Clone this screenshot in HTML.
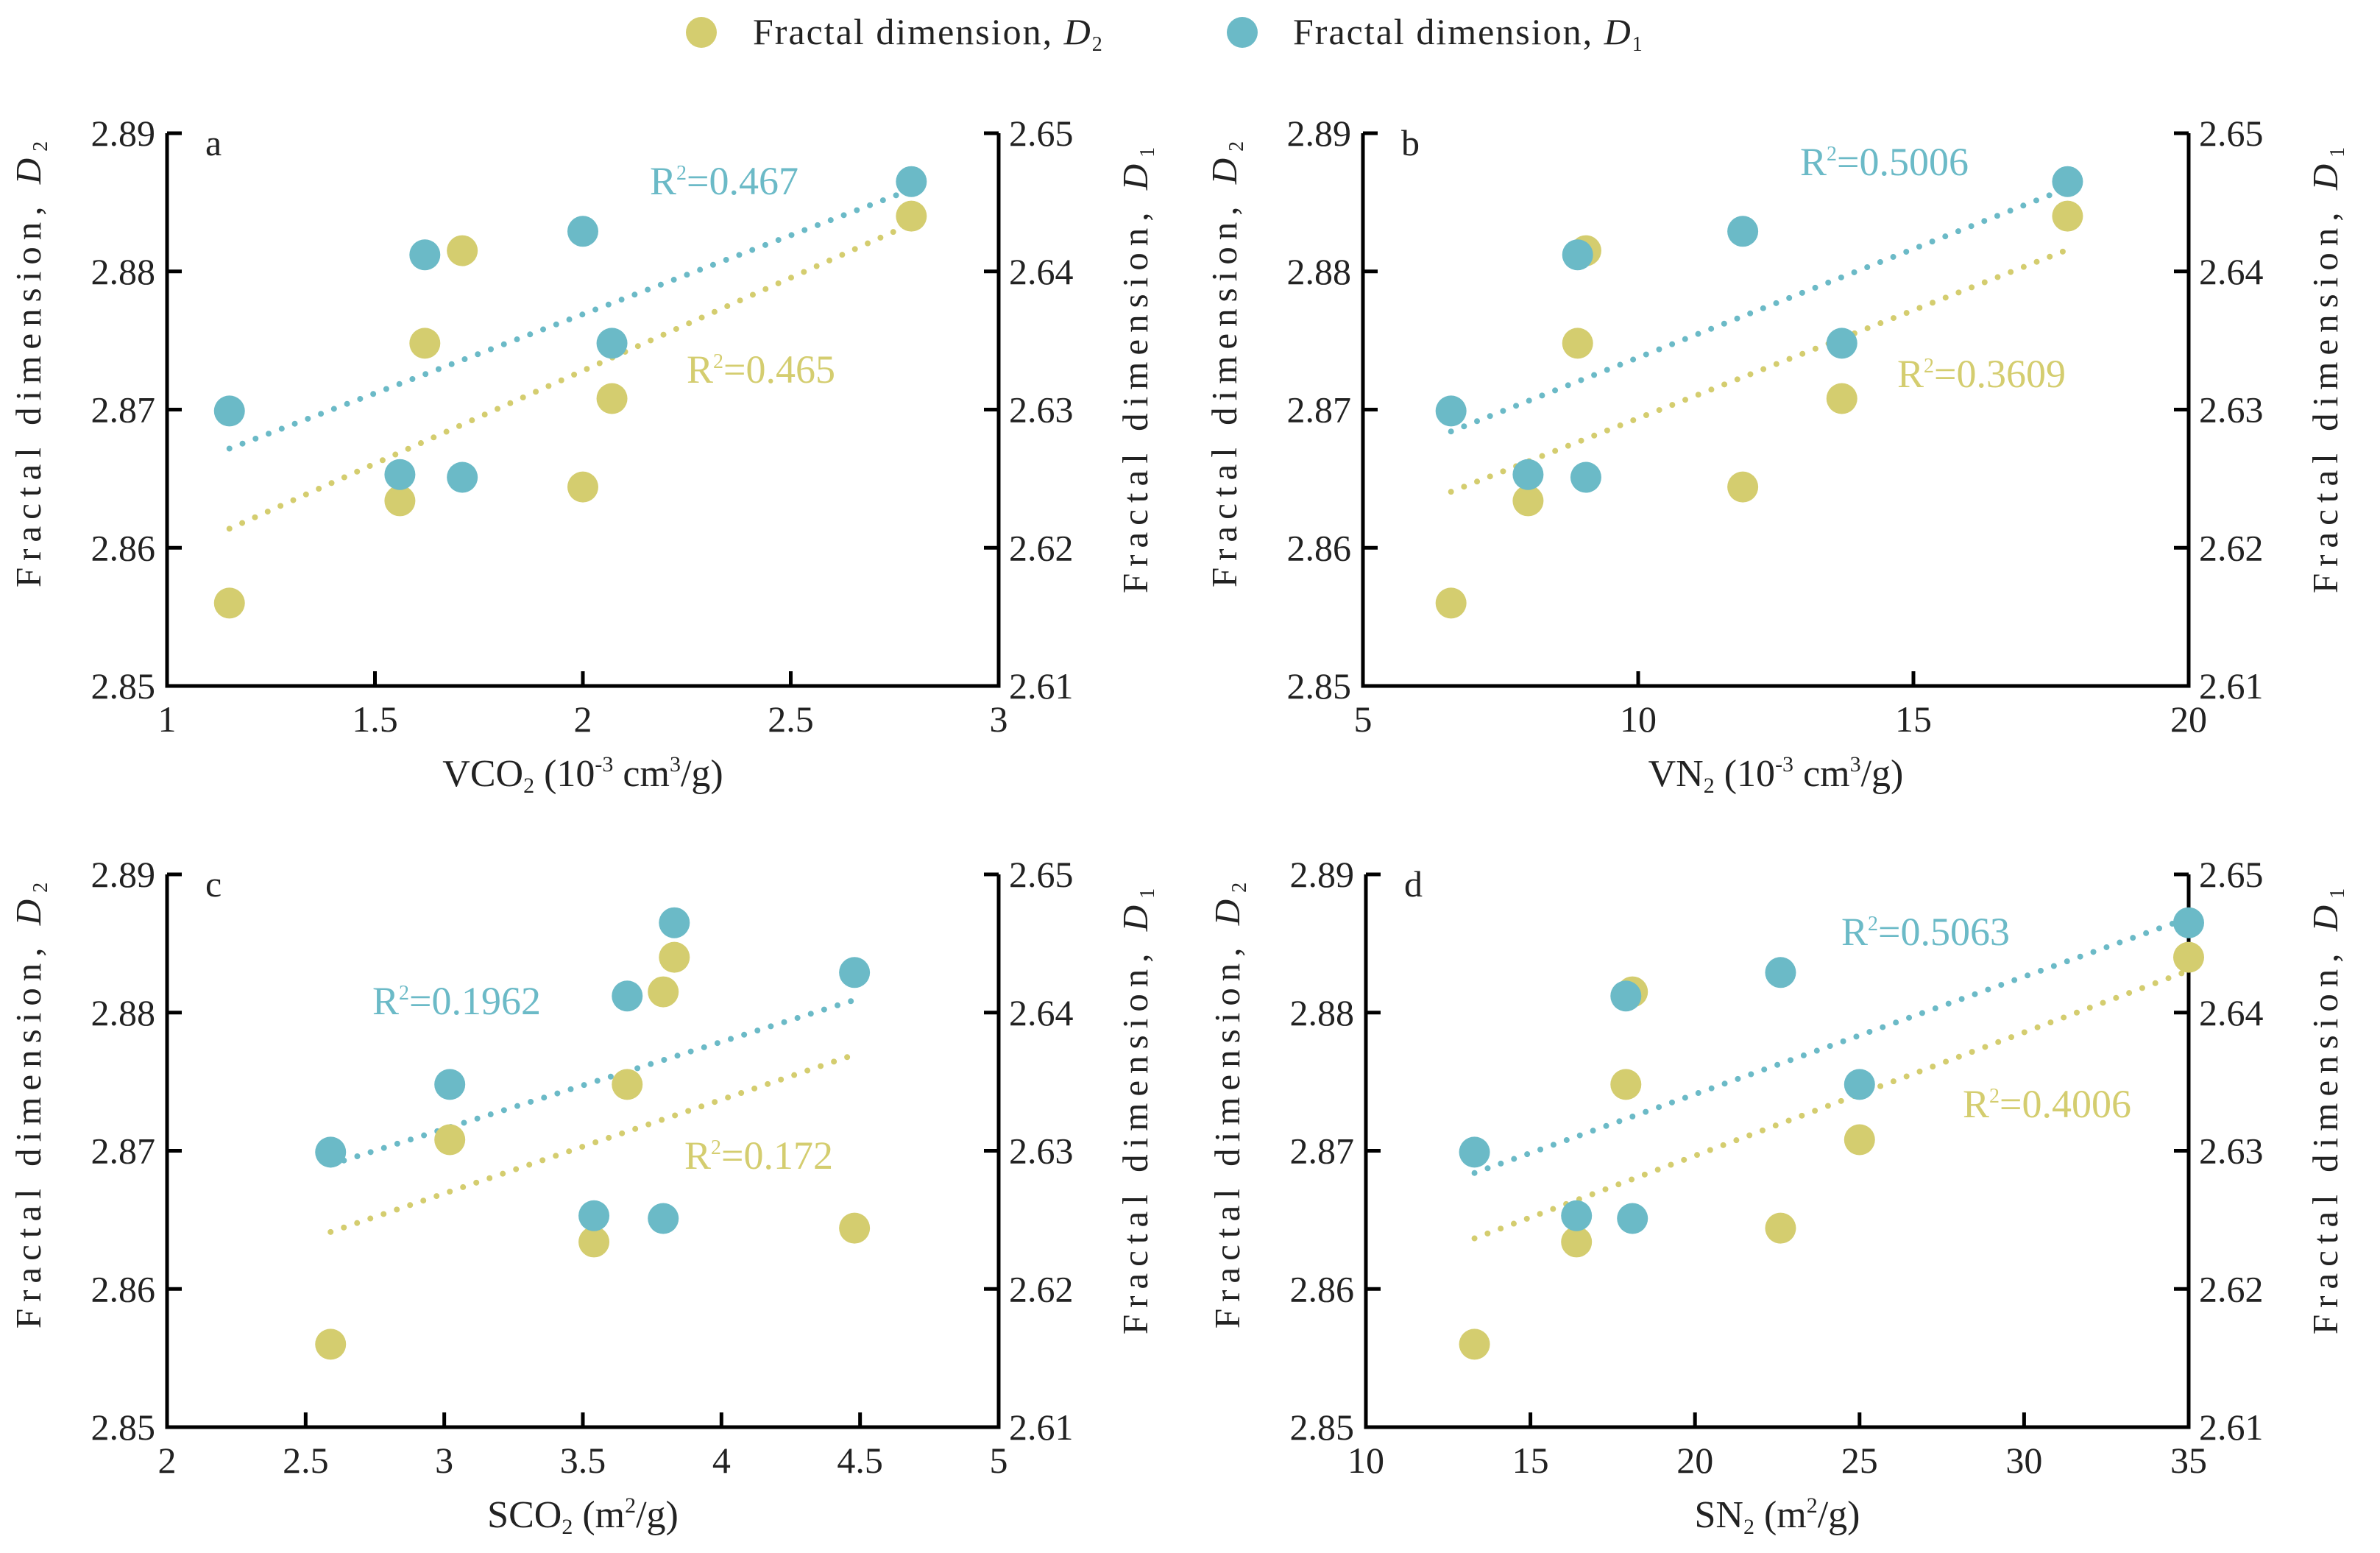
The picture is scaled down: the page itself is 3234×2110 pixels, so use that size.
<!DOCTYPE html>
<html><head><meta charset="utf-8">
<style>
html,body{margin:0;padding:0;background:#fff;}
svg{display:block;font-family:"Liberation Serif",serif;}
</style></head>
<body>
<svg id="chart" width="3234" height="2110" viewBox="0 0 3234 2110" xmlns="http://www.w3.org/2000/svg">
  <g>
    <circle cx="953" cy="44" r="21" fill="#d4cd6f"/>
    <text x="1023" y="60" font-size="50" letter-spacing="2" fill="#222">Fractal dimension, <tspan font-style="italic">D</tspan><tspan font-size="28" dy="9">2</tspan></text>
    <circle cx="1688" cy="44" r="21" fill="#6bbac7"/>
    <text x="1757" y="60" font-size="50" letter-spacing="2" fill="#222">Fractal dimension, <tspan font-style="italic">D</tspan><tspan font-size="28" dy="9">1</tspan></text>
  </g>
</svg>
<script>
// shared sample values (7 samples)
const d2Values = [2.856, 2.8634, 2.8748, 2.8815, 2.8644, 2.8708, 2.884];
const d1Values = [2.6299, 2.6253, 2.6412, 2.6251, 2.6429, 2.6348, 2.6465];
// x values per panel
const xVCO2 = [1.15, 1.56, 1.62, 1.71, 2.0, 2.07, 2.79];
const xVN2  = [6.6, 8.0, 8.9, 9.05, 11.9, 13.7, 17.8];
const xSCO2 = [2.59, 3.54, 3.66, 3.79, 4.48, 3.02, 3.83];
const xSN2  = [13.3, 16.4, 17.9, 18.1, 22.6, 25.0, 35.0];
// tick labels
const xTicksA = [1, 1.5, 2, 2.5, 3];
const xTicksB = [5, 10, 15, 20];
const xTicksC = [2, 2.5, 3, 3.5, 4, 4.5, 5];
const xTicksD = [10, 15, 20, 25, 30, 35];
const leftTicks = [2.85, 2.86, 2.87, 2.88, 2.89];
const rightTicks = [2.61, 2.62, 2.63, 2.64, 2.65];
// R² labels
const r2Blue = ["0.467", "0.5006", "0.1962", "0.5063"];
const r2Yellow = ["0.465", "0.3609", "0.172", "0.4006"];

const NS = "http://www.w3.org/2000/svg";
const svg = document.getElementById("chart");
const BLUE = "#6bbac7", YEL = "#d4cd6f";
function mk(tag, attrs, parent) {
  const e = document.createElementNS(NS, tag);
  for (const k in attrs) e.setAttribute(k, attrs[k]);
  (parent || svg).appendChild(e);
  return e;
}
function fit(xs, ys) {
  const n = xs.length; let sx=0, sy=0, sxx=0, sxy=0;
  for (let i=0;i<n;i++){sx+=xs[i];sy+=ys[i];sxx+=xs[i]*xs[i];sxy+=xs[i]*ys[i];}
  const b=(n*sxy-sx*sy)/(n*sxx-sx*sx); return {b, a:(sy-b*sx)/n};
}
function panel(cfg) {
  const g = mk("g", {});
  
  
  const {L, R, T, B, xmin, xmax, xs, xticks} = cfg;
  const sx = v => L + (v - xmin) / (xmax - xmin) * (R - L);
  const sy = v => B - (v - 2.85) / 0.04 * (B - T);
  const sy1 = v => B - (v - 2.61) / 0.04 * (B - T);
  const ax = mk("path", {d:`M${L},${T} L${L},${B} L${R},${B} L${R},${T}`, fill:"none", stroke:"#000", "stroke-width":5}, g);
  
  
  leftTicks.forEach((t, i) => {
    const y = sy(t);
    mk("line", {x1:L, x2:L+20, y1:y, y2:y, stroke:"#000", "stroke-width":5}, g);
    const tl = mk("text", {x:L-16, y:y+17, "font-size":50, "text-anchor":"end", fill:"#222"}, g);
    
    
    tl.textContent = t.toFixed(2);
    const yr = sy1(rightTicks[i]);
    mk("line", {x1:R-20, x2:R, y1:yr, y2:yr, stroke:"#000", "stroke-width":5}, g);
    const tr = mk("text", {x:R+14, y:yr+17, "font-size":50, fill:"#222"}, g);
    
    
    tr.textContent = rightTicks[i].toFixed(2);
  });
  xticks.forEach(t => {
    const x = sx(t);
    mk("line", {x1:x, x2:x, y1:B, y2:B-20, stroke:"#000", "stroke-width":5}, g);
    const tx = mk("text", {x:x, y:B+62, "font-size":50, "text-anchor":"middle", fill:"#222"}, g);
    
    
    tx.textContent = String(t);
  });
  const pl = mk("text", {x:L+52, y:T+30, "font-size":50, fill:"#222"}, g);
  
  
  pl.textContent = cfg.letter;
  const xt = mk("text", {x:(L+R)/2, y:B+136, "font-size":52, "text-anchor":"middle", fill:"#222"}, g);
  
  
  xt.innerHTML = cfg.xtitle;
  const cy = (T+B)/2;
  const yl = mk("text", {x:0, y:0, "font-size":49, "letter-spacing":9, "text-anchor":"middle", fill:"#222", transform:`translate(${L-172},${cy-66}) rotate(-90)`}, g);
  
  
  yl.innerHTML = 'Fractal dimension, <tspan font-style="italic">D</tspan><tspan font-size="28" dy="9">2</tspan>';
  const yr = mk("text", {x:0, y:0, "font-size":49, "letter-spacing":9, "text-anchor":"middle", fill:"#222", transform:`translate(${R+202},${cy-58}) rotate(-90)`}, g);
  
  
  yr.innerHTML = 'Fractal dimension, <tspan font-style="italic">D</tspan><tspan font-size="28" dy="9">1</tspan>';
  const lo = Math.min(...xs), hi = Math.max(...xs);
  const fy = fit(xs, d2Values), fb = fit(xs, d1Values);
  const ly = mk("line", {x1:sx(lo), y1:sy(fy.a+fy.b*lo), x2:sx(hi), y2:sy(fy.a+fy.b*hi), stroke:YEL, "stroke-width":8, "stroke-linecap":"round", "stroke-dasharray":"0 19"}, g);
  
  
  const lb = mk("line", {x1:sx(lo), y1:sy1(fb.a+fb.b*lo), x2:sx(hi), y2:sy1(fb.a+fb.b*hi), stroke:BLUE, "stroke-width":8, "stroke-linecap":"round", "stroke-dasharray":"0 19"}, g);
  
  
  xs.forEach((x, i) => {
    const p = mk("circle", {cx:sx(x), cy:sy(d2Values[i]), r:21, fill:YEL}, g);
    
    
  });
  xs.forEach((x, i) => {
    const p = mk("circle", {cx:sx(x), cy:sy1(d1Values[i]), r:21, fill:BLUE}, g);
    
    
  });
  const tb = mk("text", {x:cfg.rb[0], y:cfg.rb[1], "font-size":54, fill:BLUE}, g);
  
  
  tb.innerHTML = 'R<tspan font-size="28" dy="-20">2</tspan><tspan dy="20">=' + r2Blue[cfg.idx] + '</tspan>';
  const ty = mk("text", {x:cfg.ry[0], y:cfg.ry[1], "font-size":54, fill:YEL}, g);
  
  
  ty.innerHTML = 'R<tspan font-size="28" dy="-20">2</tspan><tspan dy="20">=' + r2Yellow[cfg.idx] + '</tspan>';
}
const sub = s => '<tspan font-size="30" dy="9">' + s + '</tspan><tspan dy="-9">';
const sup = s => '<tspan font-size="30" dy="-20">' + s + '</tspan><tspan dy="20">';
panel({idx:0, letter:"a", L:227, R:1357, T:181, B:932, xmin:1, xmax:3, xs:xVCO2, xticks:xTicksA,
  xtitle:'VCO' + sub('2') + ' (10' + sup('-3') + ' cm' + sup('3') + '/g)</tspan></tspan></tspan>',
  rb:[883,264], ry:[933,520]});
panel({idx:1, letter:"b", L:1852, R:2974, T:181, B:932, xmin:5, xmax:20, xs:xVN2, xticks:xTicksB,
  xtitle:'VN' + sub('2') + ' (10' + sup('-3') + ' cm' + sup('3') + '/g)</tspan></tspan></tspan>',
  rb:[2446,238], ry:[2578,526]});
panel({idx:2, letter:"c", L:227, R:1357, T:1188, B:1939, xmin:2, xmax:5, xs:xSCO2, xticks:xTicksC,
  xtitle:'SCO' + sub('2') + ' (m' + sup('2') + '/g)</tspan></tspan>',
  rb:[506,1378], ry:[930,1588]});
panel({idx:3, letter:"d", L:1856, R:2974, T:1188, B:1939, xmin:10, xmax:35, xs:xSN2, xticks:xTicksD,
  xtitle:'SN' + sub('2') + ' (m' + sup('2') + '/g)</tspan></tspan>',
  rb:[2502,1284], ry:[2667,1518]});
</script>
</body></html>
